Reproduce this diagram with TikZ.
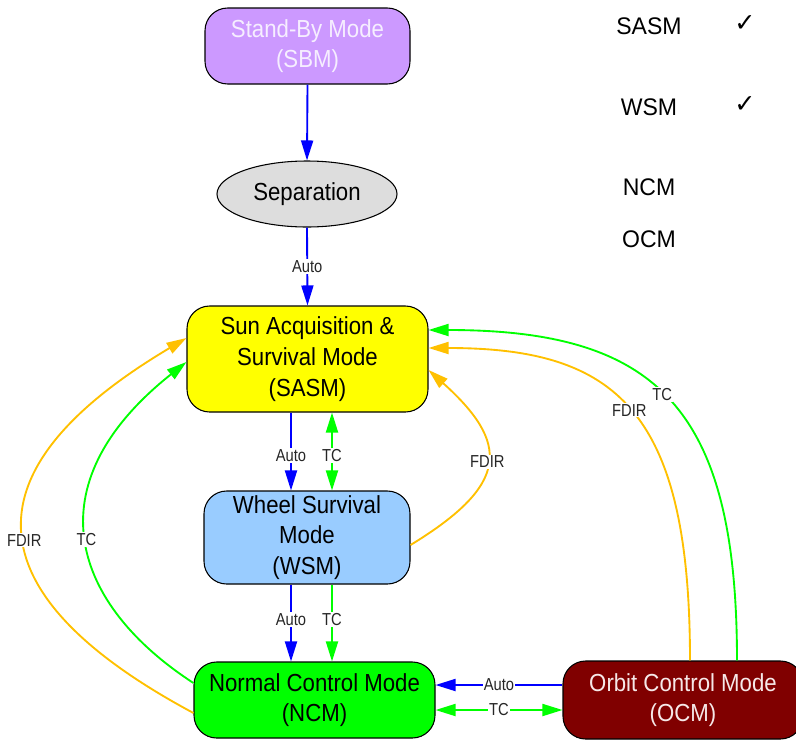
\documentclass[tikz,border=0pt]{standalone}
\usepackage{fontspec}
\setmainfont[FakeStretch=0.9]{Liberation Sans}
\newfontfamily\lblfont[FakeStretch=0.85]{Liberation Sans}
\newfontfamily\sidefont[FakeStretch=0.96]{Liberation Sans}
\newfontfamily\symfont{DejaVu Sans}
\usetikzlibrary{arrows.meta,calc,shapes.geometric}

\definecolor{sbmfill}{HTML}{CC99FF}
\definecolor{sbmtext}{HTML}{F6EEFF}
\definecolor{sepfill}{HTML}{DDDDDD}
\definecolor{sasmfill}{HTML}{FFFF00}
\definecolor{wsmfill}{HTML}{99CCFF}
\definecolor{ncmfill}{HTML}{00FF00}
\definecolor{ocmfill}{HTML}{800000}
\definecolor{ocmtext}{HTML}{F6E8E8}
\definecolor{autoblue}{HTML}{0000FF}
\definecolor{tcgreen}{HTML}{00FF00}
\definecolor{fdirorange}{HTML}{FFC000}

\newcommand\modefont{\fontsize{18.5pt}{23pt}\selectfont}
\newcommand\smallfont{\lblfont\fontsize{13pt}{14pt}\selectfont}

\tikzset{
  mode/.style={draw=black, line width=0.8pt, rounded corners=17pt,
    align=center, inner sep=0pt, font=\modefont, text=black},
  lbl/.style={fill=white, inner sep=1pt, font=\smallfont, text=black!85},
  flow/.style={line width=1.4pt, line join=round},
  autoflow/.style={flow, draw=autoblue, ->},
  tcflow/.style={flow, draw=tcgreen, ->},
  tcboth/.style={flow, draw=tcgreen, <->},
  fdirflow/.style={flow, draw=fdirorange, ->},
  sidelabel/.style={font=\sidefont\fontsize{18pt}{22pt}\selectfont, text=black},
  tick/.style={font=\symfont\fontsize{19pt}{20pt}\selectfont, text=black}
}

\begin{document}
\begin{tikzpicture}[x=0.75pt, y=-0.75pt,
    >={Triangle[length=15pt,width=9pt]}]
  \useasboundingbox (0,0) rectangle (796,739);

  % operating modes
  \node[mode, fill=sbmfill, text=sbmtext, minimum width=153.75pt, minimum height=57pt]
    (sbm) at (307.5,46) {Stand-By Mode\\(SBM)};
  \node[draw=black, line width=0.8pt, shape=ellipse, fill=sepfill, inner sep=0pt,
    minimum width=135pt, minimum height=49.5pt, font=\modefont]
    (sep) at (307,194) {Separation};
  \node[mode, fill=sasmfill, minimum width=180.75pt, minimum height=79.5pt]
    (sasm) at (307.5,359) {Sun Acquisition \&\\Survival Mode\\(SASM)};
  \node[mode, fill=wsmfill, minimum width=154.5pt, minimum height=69.75pt]
    (wsm) at (307,537.5) {Wheel Survival\\Mode\\(WSM)};
  \node[mode, fill=ncmfill, minimum width=180.75pt, minimum height=57pt]
    (ncm) at (314.5,700) {Normal Control Mode\\(NCM)};
  \node[mode, fill=ocmfill, text=ocmtext, minimum width=180pt, minimum height=58.5pt]
    (ocm) at (683,700) {Orbit Control Mode\\(OCM)};

  % mode list with checks
  \node[sidelabel] (lsasm) at (649,26) {SASM};
  \node[tick] (csasm) at (745,24) {✓};
  \node[sidelabel] (lwsm) at (649,107) {WSM};
  \node[tick] (cwsm) at (745,105) {✓};
  \node[sidelabel] (lncm) at (649,187) {NCM};
  \node[sidelabel] (locm) at (649,239) {OCM};

  % straight transitions
  \draw[autoflow] (sbm.south) -- (sep.north);
  \draw[autoflow] (sep.south) -- (sasm.north) node[lbl, midway] {Auto};

  \draw[autoflow] ($(sasm.south)+(-16.5,0)$) -- ($(wsm.north)+(-16,0)$)
    node[lbl, pos=0.55] {Auto};
  \draw[tcboth] ($(sasm.south)+(24.5,0)$) -- ($(wsm.north)+(25,0)$)
    node[lbl, pos=0.55] {TC};

  \draw[autoflow] ($(wsm.south)+(-16,0)$) -- ($(ncm.north)+(-23.5,0)$)
    node[lbl, pos=0.45] {Auto};
  \draw[tcflow] ($(wsm.south)+(25,0)$) -- ($(ncm.north)+(17.5,0)$)
    node[lbl, pos=0.45] {TC};

  \draw[autoflow] ($(ocm.west)+(0,-15)$) -- ($(ncm.east)+(0,-15)$)
    node[lbl, midway] {Auto};
  \draw[tcboth] ($(ncm.east)+(0,10)$) -- ($(ocm.west)+(0,10)$)
    node[lbl, midway] {TC};

  % curved recoveries back to SASM
  \draw[fdirflow] ($(ncm.west)+(0,13)$)
    .. controls +(-198,-106) and +(-244,145) .. ($(sasm.west)+(0,-21)$)
    node[lbl, pos=0.5] {FDIR};
  \draw[tcflow] ($(ncm.west)+(0,-17)$)
    .. controls +(-120,-78) and +(-156,124) .. ($(sasm.west)+(0,3)$)
    node[lbl, pos=0.5] {TC};

  \draw[fdirflow] ($(wsm.east)+(0,7.5)$)
    .. controls +(100,-61) and +(81,73) .. ($(sasm.east)+(0,11)$)
    node[lbl, pos=0.5] {FDIR};

  \draw[fdirflow] ($(ocm.north)+(7,0)$)
    .. controls +(0,-251) and +(187,0) .. ($(sasm.east)+(0,-11)$)
    node[lbl, pos=0.5] {FDIR};
  \draw[tcflow] ($(ocm.north)+(54,0)$)
    .. controls +(0,-253) and +(228,0) .. ($(sasm.east)+(0,-29)$)
    node[lbl, pos=0.52] {TC};
\end{tikzpicture}
\end{document}
